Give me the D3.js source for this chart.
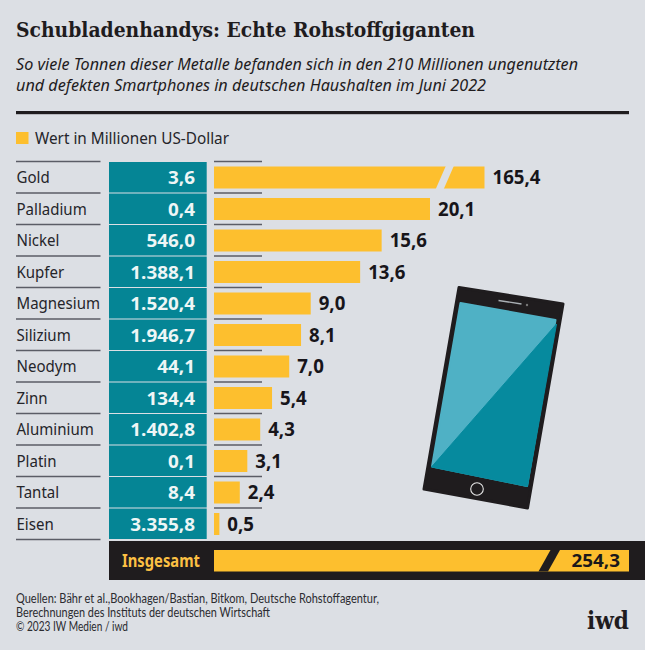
<!DOCTYPE html>
<html><head><meta charset="utf-8">
<script src="https://cdn.jsdelivr.net/npm/d3@7"></script>
<style>html,body{margin:0;padding:0;background:#dcdfe4}svg{display:block}</style></head>
<body><svg id="c" width="645" height="650"></svg>
<script>
const metals=["Gold","Palladium","Nickel","Kupfer","Magnesium","Silizium","Neodym","Zinn","Aluminium","Platin","Tantal","Eisen"];
const tonnes=[3.6,0.4,546.0,1388.1,1520.4,1946.7,44.1,134.4,1402.8,0.1,8.4,3355.8];
const values=[165.4,20.1,15.6,13.6,9.0,8.1,7.0,5.4,4.3,3.1,2.4,0.5];
const totalValue=254.3;
const title="Schubladenhandys: Echte Rohstoffgiganten";
const subtitle=["So viele Tonnen dieser Metalle befanden sich in den 210 Millionen ungenutzten","und defekten Smartphones in deutschen Haushalten im Juni 2022"];
const legendLabel="Wert in Millionen US-Dollar";
const totalLabel="Insgesamt";
const sources=["Quellen: Bähr et al.,Bookhagen/Bastian, Bitkom, Deutsche Rohstoffagentur,","Berechnungen des Instituts der deutschen Wirtschaft","© 2023 IW Medien / iwd"];

const BG="#dcdfe4",YEL="#fdbf2e",TEAL="#058595",INK="#1f1c1e";
const SANS="'Noto Sans',sans-serif",SERIF="'DejaVu Serif',serif",LATO="Lato,sans-serif";
const svg=d3.select("#c");
svg.append("rect").attr("width",645).attr("height",650).attr("fill",BG);
const fmt=v=>{const s=d3.format(",.1f")(v);return s.replace(/[,.]/g,m=>m===","?".":",");};

function txt(x,y,s,o={}){
  const t=svg.append("text").attr("x",x).attr("y",y).text(s)
   .attr("font-family",o.family||SANS).attr("font-size",o.size||15)
   .attr("font-weight",o.weight||400).attr("font-style",o.style||"normal")
   .attr("fill",o.fill||INK).attr("text-anchor",o.anchor||"start");
  const len=o.len||(o.sx?t.node().getComputedTextLength()*o.sx:0);
  if(len){t.attr("textLength",len).attr("lengthAdjust","spacingAndGlyphs");}
  return t;
}
txt(16,37,title,{family:SERIF,weight:700,size:21,len:459});
txt(16,70,subtitle[0],{style:"italic",size:16.5,len:562});
txt(16,91,subtitle[1],{style:"italic",size:16.5,len:470});
svg.append("rect").attr("x",16).attr("y",111).attr("width",613).attr("height",3.2).attr("fill",INK);
svg.append("rect").attr("x",16).attr("y",132).attr("width",12.5).attr("height",12).attr("fill",YEL);
txt(35,144,legendLabel,{size:16,len:194,fill:"#25252a"});

const y=d3.scaleBand().domain(metals).range([161.5,539.5]);
const x=d3.scaleLinear().domain([0,20.1,165.4]).range([214,430,484.5]);
const xt=d3.scaleLinear().domain([0,totalValue]).range([214,629]);

const rowlines=d3.range(metals.length+1).map(i=>161.5+i*y.bandwidth());
svg.selectAll(".l1").data(rowlines).join("line").attr("x1",16).attr("x2",100.5)
  .attr("y1",d=>d).attr("y2",d=>d).attr("stroke","#5b5d66").attr("stroke-width",1.3);
svg.selectAll(".l2").data(rowlines.slice(0,-1)).join("line").attr("x1",214).attr("x2",262)
  .attr("y1",d=>d).attr("y2",d=>d).attr("stroke","#5b5d66").attr("stroke-width",1.3);

svg.selectAll(".t").data(metals).join("rect").attr("x",109).attr("width",97.7)
  .attr("y",d=>y(d)+0.5).attr("height",y.bandwidth()-1).attr("fill",TEAL);
svg.selectAll(".b").data(metals).join("rect").attr("x",x(0))
  .attr("width",(d,i)=>x(values[i])-x(0)).attr("y",d=>y(d)+5).attr("height",y.bandwidth()-9.5).attr("fill",YEL);

metals.forEach((m,i)=>{
  const cy=y(m)+y.bandwidth()/2+6.5;
  txt(16.5,cy-0.5,m,{size:15.5,sx:0.97,fill:"#25252a"});
  txt(195,cy+0.5,fmt(tonnes[i]),{size:18.5,weight:700,sx:1.02,fill:"#eef6f6",anchor:"end"});
  txt(x(values[i])+8,cy+0.5,fmt(values[i]),{size:19,weight:700,sx:0.98,fill:"#17151a"});
});
// axis break in the Gold bar
const gy=y("Gold")+4,gh=y.bandwidth()-7.5;
svg.append("path").attr("fill",BG).attr("d",`M446,${gy}L454,${gy}L443.5,${gy+gh}L435.5,${gy+gh}Z`);

// total row
svg.append("rect").attr("x",109).attr("y",541).attr("width",536).attr("height",39).attr("fill",INK);
svg.append("rect").attr("x",xt(0)).attr("y",550).attr("width",xt(totalValue)-xt(0)).attr("height",21.5).attr("fill",YEL);
svg.append("path").attr("fill",INK).attr("d","M550.5,550L560,550L548,571.5L538.5,571.5Z");
txt(122,567,totalLabel,{size:17.5,weight:700,len:78,fill:"#fcc044"});
txt(620,567,fmt(totalValue),{size:18.5,weight:700,sx:1.02,anchor:"end",fill:"#1a181a"});

// phone illustration
const phone=svg.append("g");
phone.append("path").attr("fill",INK).attr("stroke",INK).attr("stroke-width",3).attr("stroke-linejoin","round")
  .attr("d","M459,287.5L563,304L527.5,508L424,489Z");
phone.append("path").attr("fill","#4fb1c5").attr("stroke","#4fb1c5").attr("stroke-width",2).attr("stroke-linejoin","round").attr("d","M460.5,303L555.5,320L527,486L432,466.5Z");
phone.append("path").attr("fill","#068a9e").attr("stroke","#068a9e").attr("stroke-width",1).attr("stroke-linejoin","round").attr("d","M556.5,324L527.5,486.5L431.5,467Z");
phone.append("line").attr("x1",498.5).attr("y1",300.5).attr("x2",521.5).attr("y2",304).attr("stroke","#aab0b5").attr("stroke-width",1.3);
phone.append("circle").attr("cx",527).attr("cy",305).attr("r",1.2).attr("fill","#777");
phone.append("circle").attr("cx",477).attr("cy",489).attr("r",6.3).attr("fill","none").attr("stroke","#e6e6e6").attr("stroke-width",1.1);

// footer
txt(16,603,sources[0],{family:LATO,size:12.5,len:363,fill:"#2b2b30"});
txt(16,617,sources[1],{family:LATO,size:12.5,len:254,fill:"#2b2b30"});
txt(16,630.5,sources[2],{family:LATO,size:12.5,len:112,fill:"#2b2b30"});
txt(629,629,"iwd",{family:SERIF,weight:700,size:24,anchor:"end",len:42});
</script></body></html>
